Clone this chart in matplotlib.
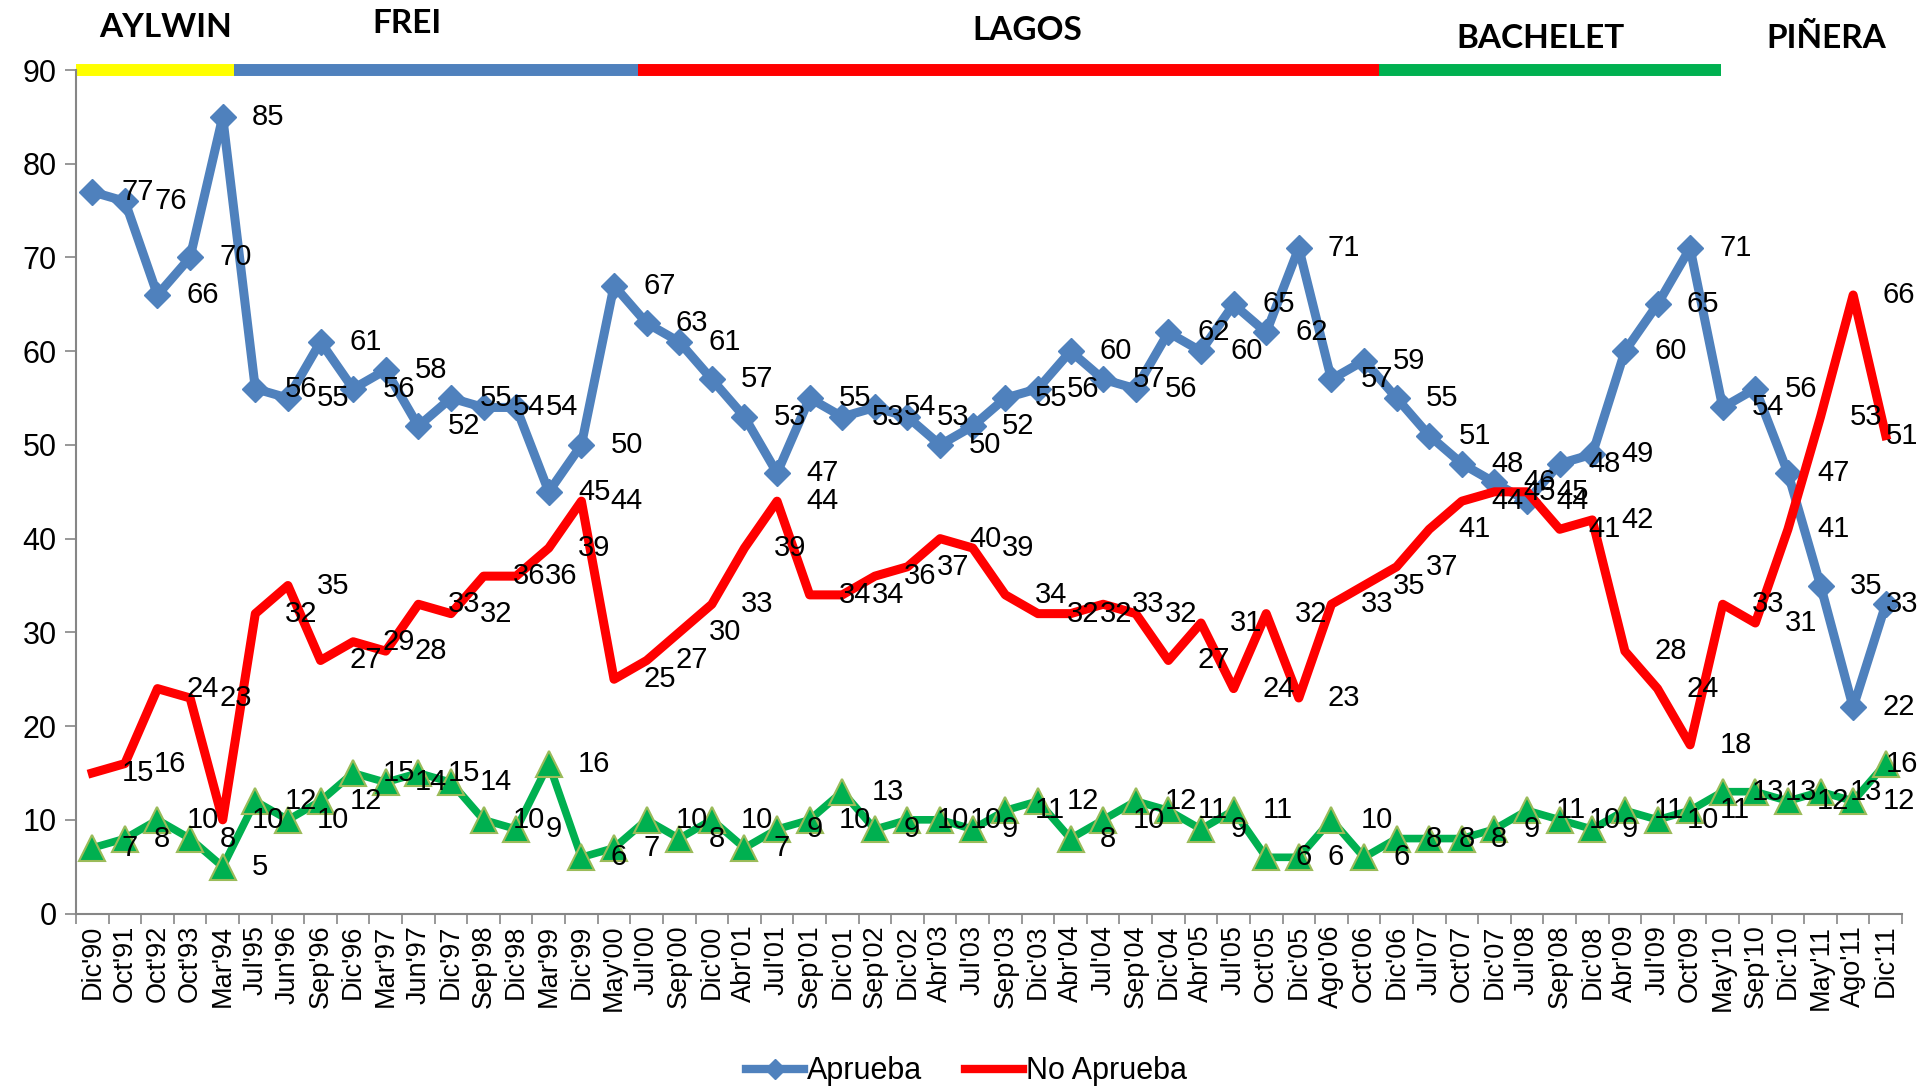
import numpy as np
import matplotlib.pyplot as plt
from matplotlib.lines import Line2D
from matplotlib.transforms import blended_transform_factory

plt.rcParams['font.family'] = 'Liberation Sans'

# Fechas de las encuestas
fechas = ["Dic'90", "Oct'91", "Oct'92", "Oct'93", "Mar'94", "Jul'95", "Jun'96", "Sep'96",
          "Dic'96", "Mar'97", "Jun'97", "Dic'97", "Sep'98", "Dic'98", "Mar'99", "Dic'99",
          "May'00", "Jul'00", "Sep'00", "Dic'00", "Abr'01", "Jul'01", "Sep'01", "Dic'01",
          "Sep'02", "Dic'02", "Abr'03", "Jul'03", "Sep'03", "Dic'03", "Abr'04", "Jul'04",
          "Sep'04", "Dic'04", "Abr'05", "Jul'05", "Oct'05", "Dic'05", "Ago'06", "Oct'06",
          "Dic'06", "Jul'07", "Oct'07", "Dic'07", "Jul'08", "Sep'08", "Dic'08", "Abr'09",
          "Jul'09", "Oct'09", "May'10", "Sep'10", "Dic'10", "May'11", "Ago'11", "Dic'11"]

aprueba = [77, 76, 66, 70, 85, 56, 55, 61, 56, 58, 52, 55, 54, 54, 45, 50,
           67, 63, 61, 57, 53, 47, 55, 53, 54, 53, 50, 52, 55, 56, 60, 57,
           56, 62, 60, 65, 62, 71, 57, 59, 55, 51, 48, 46, 44, 48, 49, 60,
           65, 71, 54, 56, 47, 35, 22, 33]

no_aprueba = [15, 16, 24, 23, 10, 32, 35, 27, 29, 28, 33, 32, 36, 36, 39, 44,
              25, 27, 30, 33, 39, 44, 34, 34, 36, 37, 40, 39, 34, 32, 32, 33,
              32, 27, 31, 24, 32, 23, 33, 35, 37, 41, 44, 45, 45, 41, 42, 28,
              24, 18, 33, 31, 41, 53, 66, 51]

no_sabe = [7, 8, 10, 8, 5, 12, 10, 12, 15, 14, 15, 14, 10, 9, 16, 6,
           7, 10, 8, 10, 7, 9, 10, 13, 9, 10, 10, 9, 11, 12, 8, 10,
           12, 11, 9, 11, 6, 6, 10, 6, 8, 8, 8, 9, 11, 10, 9, 11,
           10, 11, 13, 13, 12, 13, 12, 16]

# Periodos presidenciales (en posiciones de categoria)
presidentes = ["AYLWIN", "FREI", "LAGOS", "BACHELET", "PIÑERA"]
inicio_periodo = [-0.5, 4.35, 16.75, 39.45]
fin_periodo = [4.35, 16.75, 39.45, 49.95]
colores_periodo = ['#FFFF00', '#4F81BD', '#FF0000', '#00B050']

x = np.arange(len(fechas))

fig = plt.figure(figsize=(19.33, 10.86), dpi=100)
ax = fig.add_axes([0.0393, 0.1588, 0.9447, 0.7767])

ax.plot(x, aprueba, color='#4F81BD', lw=6.5, marker='D', ms=13, zorder=3)
ax.plot(x, no_aprueba, color='#FF0000', lw=6.5, zorder=4)
ax.plot(x, no_sabe, color='#00B050', lw=5.5, marker='^', ms=19,
        mfc='#00B050', mec='#9BBB59', mew=1.5, zorder=5)

# Etiquetas de datos (la ultima queda dentro del grafico)
for serie in [aprueba, no_aprueba, no_sabe]:
    for xi, v in zip(x, serie):
        dx = 21 if xi < len(fechas) - 1 else 0
        ax.annotate(str(v), (xi, v), xytext=(dx, 0), textcoords='offset points',
                    ha='left', va='center', fontsize=21, zorder=6)

# Barras de periodos presidenciales
for a, b, c in zip(inicio_periodo, fin_periodo, colores_periodo):
    ax.plot([a, b], [90, 90], color=c, lw=8.6, solid_capstyle='butt', clip_on=False, zorder=2)

trans = blended_transform_factory(ax.transData, fig.transFigure)
pos_nombres = [2.26, 9.65, 28.66, 44.42, 53.19]
alt_nombres = [0.966, 0.970, 0.963, 0.956, 0.956]
for nombre, px, py in zip(presidentes, pos_nombres, alt_nombres):
    ax.text(px, py, nombre, transform=trans, ha='center', va='baseline',
            fontsize=24, fontweight='bold', family='Lato')

ax.set_xlim(-0.5, len(fechas) - 0.5)
ax.set_ylim(0, 90)
ax.set_yticks(range(0, 91, 10))
ax.set_xticks(x)
ax.set_xticklabels(fechas, rotation=90)
ax.set_xticks(np.arange(-0.5, len(fechas), 1), minor=True)
ax.tick_params(axis='x', which='major', length=0, pad=8, labelsize=19.5)
ax.tick_params(axis='x', which='minor', length=7, color='#868686', width=1.2)
ax.tick_params(axis='y', length=8, color='#868686', width=1.2, labelsize=22, pad=6)

for s in ['top', 'right']:
    ax.spines[s].set_visible(False)
for s in ['left', 'bottom']:
    ax.spines[s].set_color('#868686')
    ax.spines[s].set_linewidth(1.5)

handles = [Line2D([], [], color='#4F81BD', lw=6, marker='D', ms=10),
           Line2D([], [], color='#FF0000', lw=6)]
fig.legend(handles, ['Aprueba', 'No Aprueba'], loc='lower center',
           bbox_to_anchor=(0.5, -0.003), ncol=2, frameon=False, fontsize=22,
           handlelength=1.9, handletextpad=0.1, columnspacing=1.4,
           borderaxespad=0, borderpad=0.1)

plt.savefig('out.png', dpi=100)
